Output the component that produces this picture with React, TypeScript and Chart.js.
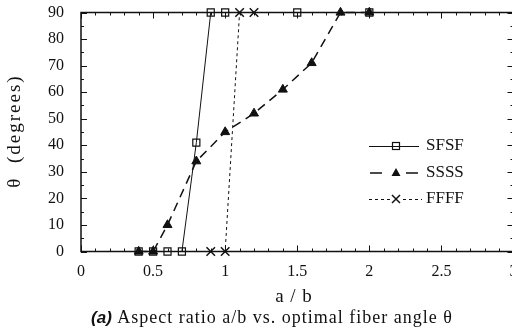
import React, { useEffect, useRef } from 'react';
import { Chart, registerables } from 'chart.js';
Chart.register(...registerables);

const sfsfX = [0.4, 0.5, 0.6, 0.7, 0.8, 0.9, 1.0, 1.5, 2.0];
const sfsfY = [0, 0, 0, 0, 41, 90, 90, 90, 90];
const ssssX = [0.4, 0.5, 0.6, 0.8, 1.0, 1.2, 1.4, 1.6, 1.8, 2.0];
const ssssY = [0, 0, 10, 34, 45, 52, 61, 71, 90, 90];
const ffffX = [0.9, 1.0, 1.1, 1.2];
const ffffY = [0, 0, 90, 90];
const xTickLabels = ['0', '0.5', '1', '1.5', '2', '2.5', '3'];
const yTickLabels = ['0', '10', '20', '30', '40', '50', '60', '70', '80', '90'];
const seriesNames = ['SFSF', 'SSSS', 'FFFF'];
const xTitle = 'a / b';
const yTitle = 'θ  (degrees)';
const captionLead = '(a)';
const captionRest = ' Aspect ratio a/b vs. optimal fiber angle θ';

const SERIF = '"Liberation Serif", "DejaVu Serif", serif';
const SANS = '"Liberation Sans", Arial, sans-serif';
const INK = '#111';

export default function App() {
  const ref = useRef<HTMLCanvasElement>(null);
  useEffect(() => {
    const canvas = ref.current!;
    const mk = (xs: number[], ys: number[]) => xs.map((x, i) => ({ x, y: ys[i] }));

    const decor = {
      id: 'decor',
      afterDraw(chart: any) {
        const ctx = chart.ctx as any;
        const a = chart.chartArea;
        const xs = chart.scales.x;
        const ys = chart.scales.y;
        ctx.save();
        ctx.strokeStyle = INK;
        ctx.setLineDash([]);
        // frame
        ctx.lineWidth = 1.5;
        ctx.strokeRect(a.left, a.top, a.right - a.left, a.bottom - a.top);
        // ticks
        ctx.lineWidth = 1;
        ctx.beginPath();
        for (let i = 0; i <= 30; i++) {
          const v = i / 10;
          const px = Math.round(xs.getPixelForValue(v)) + 0.5;
          const len = i % 5 === 0 ? 6 : 3;
          ctx.moveTo(px, a.bottom);
          ctx.lineTo(px, a.bottom - len);
          ctx.moveTo(px, a.top);
          ctx.lineTo(px, a.top + len);
        }
        for (let i = 0; i <= 18; i++) {
          const v = i * 5;
          const py = Math.round(ys.getPixelForValue(v)) + 0.5;
          const len = i % 2 === 0 ? 6 : 3;
          ctx.moveTo(a.left, py);
          ctx.lineTo(a.left + len, py);
          ctx.moveTo(a.right, py);
          ctx.lineTo(a.right - len, py);
        }
        ctx.stroke();

        // titles
        ctx.fillStyle = INK;
        ctx.textBaseline = 'middle';
        ctx.textAlign = 'center';
        ctx.font = `19px ${SERIF}`;
        ctx.letterSpacing = '1px';
        ctx.fillText(xTitle, 294, 297);
        ctx.save();
        ctx.translate(15, 131);
        ctx.rotate(-Math.PI / 2);
        ctx.font = `19px ${SERIF}`;
        ctx.letterSpacing = '2px';
        ctx.fillText(yTitle, 0, 0);
        ctx.restore();

        // caption
        ctx.textAlign = 'left';
        ctx.font = `bold italic 17px ${SANS}`;
        ctx.letterSpacing = '0px';
        const w1 = ctx.measureText(captionLead).width;
        ctx.font = `18px ${SERIF}`;
        ctx.letterSpacing = '1px';
        const w2 = ctx.measureText(captionRest).width;
        const cx0 = 272 - (w1 + w2) / 2;
        ctx.font = `bold italic 17px ${SANS}`;
        ctx.letterSpacing = '0px';
        ctx.fillText(captionLead, cx0, 318);
        ctx.font = `18px ${SERIF}`;
        ctx.letterSpacing = '1px';
        ctx.fillText(captionRest, cx0 + w1, 318);
        ctx.letterSpacing = '0px';

        // legend
        const rowsY = [146, 173, 199];
        const mx = 396;
        ctx.font = `17px ${SERIF}`;
        rowsY.forEach((y: number, r: number) => {
          ctx.strokeStyle = INK;
          ctx.fillStyle = INK;
          if (r === 0) {
            ctx.lineWidth = 1;
            ctx.setLineDash([]);
            ctx.beginPath();
            ctx.moveTo(369, y + 0.5);
            ctx.lineTo(419, y + 0.5);
            ctx.stroke();
            ctx.lineWidth = 1.2;
            ctx.strokeRect(mx - 3.5, y - 3.5, 7, 7);
          } else if (r === 1) {
            ctx.lineWidth = 1.5;
            ctx.setLineDash([]);
            ctx.beginPath();
            ctx.moveTo(370, y);
            ctx.lineTo(382, y);
            ctx.moveTo(406, y);
            ctx.lineTo(418, y);
            ctx.stroke();
            ctx.beginPath();
            ctx.moveTo(mx, y - 5);
            ctx.lineTo(mx + 4.5, y + 3);
            ctx.lineTo(mx - 4.5, y + 3);
            ctx.closePath();
            ctx.fill();
          } else {
            ctx.lineWidth = 1;
            ctx.setLineDash([3, 3]);
            ctx.beginPath();
            ctx.moveTo(369, y + 0.5);
            ctx.lineTo(390, y + 0.5);
            ctx.moveTo(403, y + 0.5);
            ctx.lineTo(422, y + 0.5);
            ctx.stroke();
            ctx.setLineDash([]);
            ctx.lineWidth = 1.5;
            ctx.beginPath();
            ctx.moveTo(mx - 4, y - 4);
            ctx.lineTo(mx + 4, y + 4);
            ctx.moveTo(mx + 4, y - 4);
            ctx.lineTo(mx - 4, y + 4);
            ctx.stroke();
          }
          ctx.fillStyle = INK;
          ctx.textAlign = 'left';
          ctx.fillText(seriesNames[r], 426, y);
        });
        ctx.restore();
      },
    };

    const chart = new Chart(canvas, {
      type: 'line',
      data: {
        datasets: [
          {
            label: seriesNames[1],
            data: mk(ssssX, ssssY),
            borderColor: INK,
            borderWidth: 1.5,
            borderDash: [9, 6],
            pointStyle: 'triangle',
            pointRadius: 5.2,
            pointBackgroundColor: INK,
            pointBorderColor: INK,
            pointBorderWidth: 1,
            tension: 0,
            fill: false,
            clip: false,
          } as any,
          {
            label: seriesNames[2],
            data: mk(ffffX, ffffY),
            borderColor: INK,
            borderWidth: 1,
            borderDash: [3, 3],
            pointStyle: 'crossRot',
            pointRadius: 6,
            pointBorderColor: INK,
            pointBorderWidth: 1.5,
            tension: 0,
            fill: false,
            clip: false,
          } as any,
          {
            label: seriesNames[0],
            data: mk(sfsfX, sfsfY),
            borderColor: INK,
            borderWidth: 1,
            pointStyle: 'rect',
            pointRadius: 5,
            pointBackgroundColor: 'rgba(0,0,0,0)',
            pointBorderColor: INK,
            pointBorderWidth: 1.2,
            tension: 0,
            fill: false,
            clip: false,
          } as any,
        ],
      },
      options: {
        responsive: false,
        animation: false,
        devicePixelRatio: 1,
        layout: { autoPadding: false, padding: { top: 12.5, right: 6.5, left: 0, bottom: 0 } },
        plugins: { legend: { display: false }, tooltip: { enabled: false } },
        scales: {
          x: {
            type: 'linear',
            min: 0,
            max: 3,
            grid: {
              display: true,
              drawOnChartArea: false,
              drawTicks: true,
              tickLength: 11,
              tickColor: 'rgba(0,0,0,0)',
              color: 'rgba(0,0,0,0)',
            },
            border: { display: false },
            ticks: {
              stepSize: 0.5,
              padding: 0,
              color: INK,
              maxRotation: 0,
              autoSkip: false,
              font: { family: SERIF, size: 16 },
              callback: (_v: any, i: number) => xTickLabels[i],
            },
            afterFit(s: any) {
              s.height = 84.5;
            },
          },
          y: {
            type: 'linear',
            min: 0,
            max: 90,
            grid: {
              display: true,
              drawOnChartArea: false,
              drawTicks: true,
              tickLength: 17,
              tickColor: 'rgba(0,0,0,0)',
              color: 'rgba(0,0,0,0)',
            },
            border: { display: false },
            ticks: {
              stepSize: 10,
              padding: 0,
              color: INK,
              autoSkip: false,
              font: { family: SERIF, size: 16 },
              callback: (_v: any, i: number) => yTickLabels[i],
            },
            afterFit(s: any) {
              s.width = 81;
            },
          },
        },
      } as any,
      plugins: [decor],
    });
    return () => chart.destroy();
  }, []);

  return (
    <div
      style={{
        position: 'fixed',
        left: 0,
        top: 0,
        width: 512,
        height: 336,
        overflow: 'hidden',
        background: '#fff',
      }}
    >
      <canvas ref={ref} width={520} height={336} style={{ display: 'block', width: 520, height: 336 }} />
    </div>
  );
}
